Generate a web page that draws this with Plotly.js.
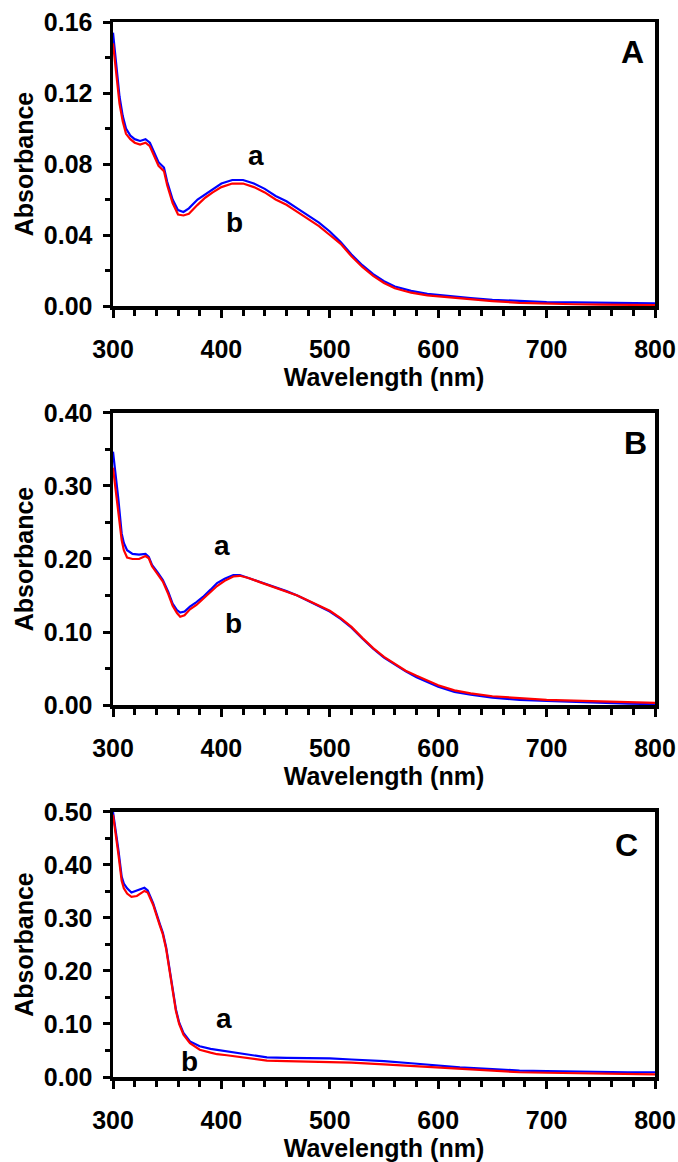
<!DOCTYPE html>
<html>
<head>
<meta charset="utf-8">
<script src="https://cdn.plot.ly/plotly-3.0.1.min.js"></script>
<style>
  html, body { margin: 0; padding: 0; background: #ffffff; }
  #chart { width: 678px; height: 1162px; }
</style>
</head>
<body>
<div id="chart"></div>
<script>
// ---------- Panel A ----------
const wavelengthA = [300, 303, 306, 309, 312, 316, 320, 325, 330, 334, 338, 342, 347, 350, 355, 360, 365, 370, 378, 385, 392, 400, 410, 420, 430, 440, 450, 460, 470, 480, 490, 500, 510, 520, 530, 540, 550, 560, 575, 590, 610, 630, 650, 675, 700, 725, 750, 775, 800];
const absorbanceA_a = [0.154, 0.135, 0.118, 0.107, 0.100, 0.096, 0.094, 0.093, 0.094, 0.092, 0.086, 0.081, 0.078, 0.070, 0.060, 0.054, 0.053, 0.055, 0.060, 0.063, 0.066, 0.069, 0.071, 0.071, 0.069, 0.066, 0.062, 0.059, 0.055, 0.051, 0.047, 0.042, 0.036, 0.029, 0.023, 0.018, 0.014, 0.011, 0.0085, 0.0068, 0.0055, 0.0045, 0.0035, 0.0028, 0.0022, 0.0020, 0.0018, 0.0016, 0.0015];
const absorbanceA_b = [0.148, 0.130, 0.114, 0.104, 0.097, 0.094, 0.092, 0.091, 0.092, 0.090, 0.084, 0.079, 0.076, 0.068, 0.058, 0.0515, 0.051, 0.052, 0.057, 0.061, 0.064, 0.067, 0.069, 0.069, 0.067, 0.064, 0.060, 0.057, 0.053, 0.049, 0.045, 0.040, 0.035, 0.028, 0.022, 0.017, 0.013, 0.010, 0.0075, 0.006, 0.0048, 0.0038, 0.0028, 0.0018, 0.0012, 0.0010, 0.0008, 0.0006, 0.0005];

// ---------- Panel B ----------
const wavelengthB = [300, 303, 305, 308, 310, 313, 318, 324, 330, 333, 336, 341, 346, 351, 355, 359, 362, 366, 371, 377, 383, 390, 396, 403, 411, 417, 425, 436, 448, 460, 470, 480, 490, 500, 510, 520, 530, 540, 550, 560, 570, 580, 590, 600, 615, 630, 650, 675, 700, 725, 750, 775, 800];
const absorbanceB_a = [0.347, 0.310, 0.281, 0.235, 0.222, 0.212, 0.207, 0.206, 0.207, 0.203, 0.192, 0.182, 0.171, 0.155, 0.139, 0.130, 0.1265, 0.128, 0.1347, 0.141, 0.148, 0.158, 0.167, 0.173, 0.178, 0.178, 0.174, 0.168, 0.162, 0.156, 0.150, 0.143, 0.136, 0.128, 0.118, 0.106, 0.091, 0.077, 0.065, 0.055, 0.046, 0.038, 0.031, 0.025, 0.018, 0.014, 0.010, 0.007, 0.0055, 0.004, 0.003, 0.002, 0.001];
const absorbanceB_b = [0.325, 0.290, 0.265, 0.226, 0.212, 0.202, 0.200, 0.200, 0.204, 0.201, 0.190, 0.180, 0.169, 0.152, 0.136, 0.126, 0.121, 0.123, 0.131, 0.137, 0.145, 0.154, 0.163, 0.170, 0.176, 0.177, 0.174, 0.168, 0.162, 0.156, 0.150, 0.143, 0.136, 0.129, 0.119, 0.107, 0.092, 0.078, 0.066, 0.056, 0.047, 0.040, 0.033, 0.027, 0.020, 0.016, 0.012, 0.009, 0.007, 0.006, 0.005, 0.004, 0.003];

// ---------- Panel C ----------
const wavelengthC = [300, 303, 305, 308, 310, 313, 317, 322, 326, 329, 332, 337, 343, 346, 349, 352, 355, 358, 361, 365, 371, 380, 390, 396, 405, 417, 430, 442, 460, 480, 500, 520, 550, 575, 600, 620, 650, 675, 700, 725, 750, 775, 800];
const absorbanceC_a = [0.500, 0.460, 0.428, 0.378, 0.365, 0.356, 0.348, 0.352, 0.355, 0.357, 0.352, 0.328, 0.290, 0.272, 0.245, 0.205, 0.165, 0.128, 0.103, 0.083, 0.067, 0.058, 0.053, 0.051, 0.048, 0.045, 0.040, 0.037, 0.036, 0.036, 0.035, 0.033, 0.030, 0.026, 0.021, 0.018, 0.015, 0.012, 0.011, 0.010, 0.010, 0.009, 0.009];
const absorbanceC_b = [0.495, 0.455, 0.420, 0.370, 0.356, 0.346, 0.340, 0.3415, 0.347, 0.351, 0.348, 0.325, 0.287, 0.269, 0.242, 0.202, 0.162, 0.125, 0.100, 0.080, 0.064, 0.0515, 0.046, 0.043, 0.041, 0.038, 0.034, 0.031, 0.030, 0.029, 0.029, 0.027, 0.024, 0.021, 0.017, 0.015, 0.012, 0.009, 0.008, 0.007, 0.007, 0.006, 0.005];

// ---------- Text ----------
const panelLetters = ['A', 'B', 'C'];
const curveNames = ['a', 'b'];
const xTitle = 'Wavelength (nm)';
const yTitle = 'Absorbance';

const FONT = 'Liberation Sans, Arial, Helvetica, sans-serif';
const BLUE = '#0000ff';
const RED = '#ff0000';

function curve(x, y, color, xa, ya, name) {
  return { x: x, y: y, type: 'scatter', mode: 'lines', name: name,
           line: { color: color, width: 2.2 }, xaxis: xa, yaxis: ya, showlegend: false,
           hoverinfo: 'x+y' };
}

const data = [
  curve(wavelengthA, absorbanceA_a, BLUE, 'x', 'y', 'a'),
  curve(wavelengthA, absorbanceA_b, RED, 'x', 'y', 'b'),
  curve(wavelengthB, absorbanceB_a, BLUE, 'x2', 'y2', 'a'),
  curve(wavelengthB, absorbanceB_b, RED, 'x2', 'y2', 'b'),
  curve(wavelengthC, absorbanceC_a, BLUE, 'x3', 'y3', 'a'),
  curve(wavelengthC, absorbanceC_b, RED, 'x3', 'y3', 'b')
];

function xAxis(anchor) {
  return {
    anchor: anchor, domain: [0, 1], range: [300, 800], tick0: 300, dtick: 100,
    ticks: 'outside', ticklen: 8, tickwidth: 3, tickcolor: '#000',
    ticklabelstandoff: 10,
    minor: { dtick: 20, tick0: 300, ticks: 'outside', ticklen: 6, tickwidth: 3, tickcolor: '#000', showgrid: false },
    showline: true, linewidth: 3.5, linecolor: '#000', mirror: true,
    showgrid: false, zeroline: false,
    tickfont: { family: FONT, size: 25, color: '#000', weight: 'bold' },
    title: { text: xTitle, font: { family: FONT, size: 25, color: '#000', weight: 'bold' }, standoff: 4 }
  };
}
function yAxis(anchor, domain, range, dtick, minorDtick) {
  return {
    anchor: anchor, domain: domain, range: range, dtick: dtick, tick0: 0, tickformat: '.2f',
    ticks: 'outside', ticklen: 7, tickwidth: 3, tickcolor: '#000',
    ticklabelstandoff: 5,
    minor: { dtick: minorDtick, tick0: 0, ticks: 'outside', ticklen: 5, tickwidth: 3, tickcolor: '#000', showgrid: false },
    showline: true, linewidth: 3.5, linecolor: '#000', mirror: true,
    showgrid: false, zeroline: false,
    tickfont: { family: FONT, size: 25, color: '#000', weight: 'bold' },
    title: { text: yTitle, font: { family: FONT, size: 25, color: '#000', weight: 'bold' }, standoff: 4 }
  };
}

function label(text, x, y, xref, yref, size) {
  return { text: text, x: x, y: y, xref: xref, yref: yref, showarrow: false,
           font: { family: FONT, size: size, color: '#000', weight: 'bold' },
           xanchor: 'center', yanchor: 'middle' };
}

const layout = {
  width: 678, height: 1162,
  margin: { l: 113, r: 23, t: 22, b: 85 },
  paper_bgcolor: '#fff', plot_bgcolor: '#fff',
  showlegend: false,
  xaxis: xAxis('y'),
  yaxis: yAxis('x', [0.7308, 1.0], [0, 0.16], 0.04, 0.02),
  xaxis2: xAxis('y2'),
  yaxis2: yAxis('x2', [0.3526, 0.6294], [0, 0.40], 0.10, 0.05),
  xaxis3: xAxis('y3'),
  yaxis3: yAxis('x3', [0, 0.2512], [0, 0.50], 0.10, 0.05),
  annotations: [
    label(panelLetters[0], 779, 0.143, 'x', 'y', 32),
    label(panelLetters[1], 782, 0.359, 'x2', 'y2', 32),
    label(panelLetters[2], 774, 0.438, 'x3', 'y3', 32),
    label(curveNames[0], 432, 0.085, 'x', 'y', 28),
    label(curveNames[1], 412, 0.047, 'x', 'y', 28),
    label(curveNames[0], 401, 0.219, 'x2', 'y2', 28),
    label(curveNames[1], 411, 0.112, 'x2', 'y2', 28),
    label(curveNames[0], 402, 0.111, 'x3', 'y3', 28),
    label(curveNames[1], 371, 0.030, 'x3', 'y3', 28)
  ]
};

Plotly.newPlot('chart', data, layout, { displayModeBar: false, staticPlot: true });
</script>
</body>
</html>
